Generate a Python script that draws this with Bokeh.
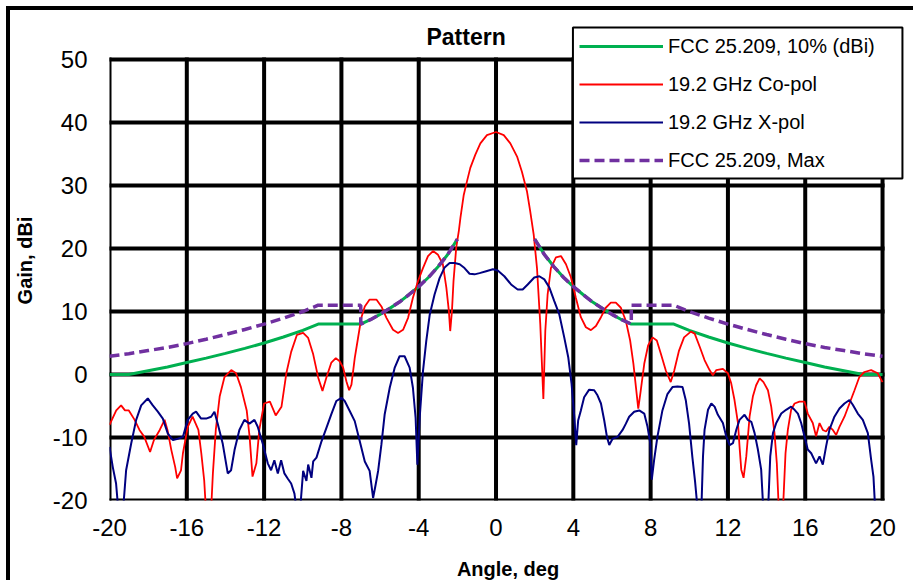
from bokeh.plotting import figure
from bokeh.models import FixedTicker, Legend, LegendItem, Label, BoxAnnotation
from bokeh.embed import file_html
from bokeh.resources import INLINE

NAN = float("nan")

x_ticks = [-20, -16, -12, -8, -4, 0, 4, 8, 12, 16, 20]
x_tick_labels = ["-20", "-16", "-12", "-8", "-4", "0", "4", "8", "12", "16", "20"]
y_ticks = [-20, -10, 0, 10, 20, 30, 40, 50]
y_tick_labels = ["-20", "-10", "0", "10", "20", "30", "40", "50"]

# FCC 25.209, 10% (dBi)
fcc10_angle = [-20, -19, -18, -17, -16, -15, -14, -13, -12, -11, -10, -9.2, -7,
               -6.5, -6, -5.5, -5, -4.5, -4, -3.5, -3, -2.5, -2,
               NAN,
               2, 2.5, 3, 3.5, 4, 4.5, 5, 5.5, 6, 6.5, 7,
               9.2, 10, 11, 12, 13, 14, 15, 16, 17, 18, 19, 20]
fcc10_gain = [0.0, 0.0, 0.6, 1.2, 1.9, 2.6, 3.35, 4.15, 5.0, 5.95, 7.0, 8.0, 8.0,
              8.7, 9.55, 10.5, 11.5, 12.7, 13.95, 15.4, 17.1, 19.05, 21.5,
              NAN,
              21.5, 19.05, 17.1, 15.4, 13.95, 12.7, 11.5, 10.5, 9.55, 8.7, 8.0,
              8.0, 7.0, 5.95, 5.0, 4.15, 3.35, 2.6, 1.9, 1.2, 0.6, 0.0, 0.0]

# FCC 25.209, Max
fccmax_angle = [-20, -19, -18, -17, -16, -15, -14, -13, -12, -11, -10, -9.2, -7, -7,
                -6.5, -6, -5.5, -5, -4.5, -4, -3.5, -3, -2.5, -2,
                NAN,
                2, 2.5, 3, 3.5, 4, 4.5, 5, 5.5, 6, 6.5, 7, 7,
                9.2, 10, 11, 12, 13, 14, 15, 16, 17, 18, 19, 20]
fccmax_gain = [2.9, 3.3, 3.8, 4.3, 4.9, 5.6, 6.35, 7.15, 8.0, 8.95, 10.0, 11.0, 11.0, 8.0,
               8.7, 9.55, 10.5, 11.5, 12.7, 13.95, 15.4, 17.1, 19.05, 21.5,
               NAN,
               21.5, 19.05, 17.1, 15.4, 13.95, 12.7, 11.5, 10.5, 9.55, 8.7, 8.0, 11.0,
               11.0, 10.0, 8.95, 8.0, 7.15, 6.35, 5.6, 4.9, 4.3, 3.8, 3.3, 2.9]

# 19.2 GHz Co-pol
copol_angle = [-20.0, -19.65, -19.4, -19.2, -19.0, -18.7, -18.45, -18.2, -17.9, -17.7,
               -17.4, -17.15, -17.0, -16.8, -16.6, -16.5, -16.3, -16.2, -15.95, -15.7,
               -15.4, -15.25, -15.1, -15.0, -14.75, -14.65, -14.5, -14.3, -14.05, -13.7,
               -13.45, -13.2, -12.9, -12.75, -12.6, -12.4, -12.25, -12.0, -11.7, -11.4,
               -11.1, -10.85, -10.6, -10.3, -9.98, -9.72, -9.46, -9.2, -8.98, -8.78,
               -8.52, -8.29, -8.09, -7.91, -7.74, -7.6, -7.48, -7.31, -7.14, -6.97,
               -6.79, -6.54, -6.19, -5.93, -5.67, -5.33, -5.07, -4.81, -4.55, -4.3,
               -4.04, -3.78, -3.52, -3.26, -3.0, -2.75, -2.57, -2.44, -2.37, -2.28,
               -2.2, -2.06, -1.92, -1.84, -1.67, -1.5, -1.33, -1.07, -0.81, -0.47,
               0.0, 0.4, 0.74, 1.09, 1.34, 1.6, 1.77, 1.95, 2.12, 2.29,
               2.45, 2.55, 2.67, 2.84, 3.1, 3.36, 3.62, 3.88, 4.13, 4.39,
               4.65, 4.91, 5.17, 5.43, 5.68, 5.94, 6.2, 6.46, 6.72, 6.94,
               7.11, 7.24, 7.36, 7.49, 7.67, 7.87, 8.1, 8.32, 8.53, 8.79,
               9.04, 9.22, 9.47, 9.73, 10.08, 10.28, 10.54, 10.79, 11.05, 11.22,
               11.4, 11.74, 12.0, 12.17, 12.34, 12.52, 12.6, 12.69, 12.81, 12.95,
               13.12, 13.29, 13.46, 13.64, 13.84, 14.07, 14.24, 14.41, 14.53, 14.64,
               14.84, 14.98, 15.1, 15.27, 15.45, 15.7, 15.96, 16.13, 16.39, 16.56,
               16.74, 16.91, 17.08, 17.25, 17.43, 17.6, 17.77, 18.03, 18.29, 18.55,
               18.8, 19.06, 19.41, 19.75, 20.0]
copol_gain = [-8.0, -5.7, -4.9, -5.7, -5.7, -7.2, -8.8, -9.9, -12.3, -10.4,
              -8.8, -7.2, -8.8, -12.0, -14.7, -16.5, -15.2, -12.5, -8.3, -6.7,
              -8.8, -12.5, -16.8, -22.0, -22.0, -15.7, -8.8, -3.5, -0.4, 0.7,
              0.2, -2.0, -5.7, -9.9, -16.2, -14.1, -8.8, -4.6, -4.3, -6.5,
              -5.1, 0.2, 3.6, 6.3, 6.6, 5.8, 3.2, -0.5, -2.6, -0.5,
              1.9, 2.6, 2.1, 1.1, -1.1, -2.5, -1.6, 2.6, 5.8, 9.0,
              10.8, 11.9, 11.9, 10.8, 9.0, 7.1, 6.6, 7.1, 9.0, 12.2,
              14.8, 16.9, 18.8, 19.6, 19.0, 17.5, 13.8, 10.1, 6.9, 10.1,
              14.8, 20.1, 22.9, 24.9, 28.5, 30.7, 32.8, 34.9, 36.7, 38.0,
              38.5, 38.0, 36.7, 34.6, 32.2, 29.1, 25.9, 22.2, 16.9, 8.0,
              -3.9, 6.9, 12.7, 16.9, 18.6, 18.8, 17.5, 15.4, 12.2, 9.1,
              7.5, 7.05, 7.7, 9.1, 10.6, 11.4, 11.4, 10.6, 8.5, 5.4,
              1.7, -2.0, -5.4, -2.5, 1.7, 4.6, 5.9, 5.4, 3.3, 0.6,
              -1.2, 0.6, 3.8, 5.9, 6.8, 6.5, 4.4, 2.3, 0.7, -0.1,
              0.7, 0.9, 0.2, -1.4, -4.05, -7.7, -11.4, -15.1, -16.4, -13.0,
              -6.7, -3.5, -1.7, -0.6, -1.2, -2.5, -5.1, -9.3, -14.1, -22.0,
              -22.0, -12.5, -8.8, -5.6, -4.6, -4.3, -4.3, -6.2, -7.7, -9.8,
              -7.7, -8.8, -9.05, -8.3, -8.8, -9.6, -8.3, -6.7, -4.6, -2.5,
              -0.4, 0.4, 0.7, 0.2, -1.2]

# 19.2 GHz X-pol
xpol_angle = [-20.0, -19.83, -19.66, -19.53, -19.31, -19.14, -18.88, -18.62, -18.36, -18.02,
              -17.76, -17.5, -17.24, -16.98, -16.72, -16.47, -16.2, -15.95, -15.69, -15.52,
              -15.26, -15.0, -14.74, -14.57, -14.4, -14.14, -13.88, -13.71, -13.53, -13.28,
              -13.02, -12.76, -12.5, -12.33, -12.07, -11.81, -11.64, -11.47, -11.29, -11.12,
              -10.95, -10.78, -10.6, -10.43, -10.3, -10.15, -9.98, -9.81, -9.72, -9.55,
              -9.46, -9.29, -9.03, -8.78, -8.52, -8.26, -8.0, -7.83, -7.57, -7.31,
              -7.05, -6.79, -6.54, -6.36, -6.23, -6.1, -5.93, -5.76, -5.5, -5.24,
              -4.99, -4.73, -4.47, -4.3, -4.16, -4.07, -3.95, -3.78, -3.61, -3.43,
              -3.18, -2.92, -2.66, -2.4, -2.14, -1.88, -1.63, -1.37, -1.11, -0.85,
              -0.51, -0.16, 0.09, 0.43, 0.78, 1.12, 1.38, 1.64, 1.98, 2.24,
              2.5, 2.76, 3.01, 3.27, 3.53, 3.74, 3.91, 4.05, 4.15, 4.25,
              4.39, 4.56, 4.82, 5.08, 5.25, 5.43, 5.6, 5.74, 5.86, 6.03,
              6.29, 6.55, 6.72, 6.89, 7.15, 7.41, 7.67, 7.84, 7.98, 8.06,
              8.18, 8.35, 8.61, 8.87, 9.13, 9.39, 9.65, 9.82, 9.99, 10.16,
              10.3, 10.45, 10.62, 10.71, 10.79, 10.97, 11.14, 11.31, 11.48, 11.74,
              11.91, 12.09, 12.26, 12.43, 12.6, 12.86, 13.03, 13.21, 13.38, 13.55,
              13.72, 13.84, 14.07, 14.19, 14.33, 14.5, 14.76, 15.01, 15.27, 15.45,
              15.62, 15.79, 15.96, 16.13, 16.31, 16.56, 16.74, 16.91, 17.08, 17.25,
              17.51, 17.77, 18.03, 18.29, 18.46, 18.72, 18.98, 19.24, 19.41, 19.53,
              19.63]
xpol_gain = [-11.5, -14.7, -17.3, -22.0, -22.0, -15.2, -11.0, -7.2, -4.9, -3.8,
             -4.9, -5.9, -7.0, -9.4, -10.4, -10.2, -9.9, -7.2, -6.2, -5.9,
             -7.0, -7.0, -6.7, -5.9, -7.8, -11.0, -15.7, -15.2, -12.0, -8.8,
             -7.2, -7.8, -7.2, -8.3, -11.0, -14.1, -15.2, -13.6, -15.7, -13.6,
             -15.7, -16.5, -17.3, -18.9, -22.0, -22.0, -15.3, -16.9, -14.3, -16.4,
             -13.8, -13.2, -10.6, -8.5, -6.3, -4.2, -3.7, -4.2, -5.8, -7.4,
             -10.6, -13.8, -15.3, -19.6, -17.5, -15.3, -11.1, -6.3, -2.1, 1.1,
             2.9, 2.9, 1.1, -2.1, -6.9, -14.3, -6.9, 0.5, 5.3, 9.5,
             12.7, 15.3, 17.0, 17.7, 17.7, 17.5, 16.9, 16.0, 15.9, 16.1,
             16.4, 16.7, 16.5, 15.6, 14.3, 13.5, 13.5, 14.3, 15.4, 15.6,
             15.1, 13.8, 11.7, 9.6, 5.9, 2.7, -1.5, -6.7, -11.2, -7.3,
             -5.7, -3.6, -2.4, -2.5, -3.3, -4.6, -7.3, -9.9, -11.2, -10.2,
             -9.9, -8.8, -7.8, -6.7, -5.9, -5.7, -6.2, -8.3, -10.9, -16.7,
             -13.6, -9.9, -5.7, -3.1, -2.0, -1.9, -2.0, -4.1, -7.8, -13.1,
             -17.0, -22.0, -22.0, -13.0, -8.8, -5.6, -4.6, -5.1, -6.4, -7.7,
             -9.8, -11.2, -10.9, -8.8, -7.2, -6.4, -7.2, -7.5, -9.3, -11.9,
             -15.1, -22.0, -22.0, -13.0, -9.3, -7.7, -6.2, -5.6, -5.1, -5.6,
             -6.2, -7.7, -9.8, -11.9, -12.5, -14.1, -13.0, -14.3, -11.4, -8.8,
             -6.7, -5.4, -4.6, -4.05, -4.8, -6.2, -7.2, -9.3, -13.5, -16.2,
             -22.0]

FONT = "Liberation Sans"

X_MIN, X_MAX = x_ticks[0], x_ticks[-1]
Y_MIN, Y_MAX = y_ticks[0], y_ticks[-1]

p = figure(width=907, height=574, x_range=(-20, 21.24), y_range=(-20, 56.2),
           output_backend="svg", toolbar_location=None,
           min_border_left=98, min_border_top=10, min_border_right=11, min_border_bottom=84,
           background_fill_color="white", border_fill_color="white")

p.styles = {"margin-left": "6px", "margin-top": "6px",
            "border-left": "4px solid black", "border-top": "4px solid black"}

p.outline_line_color = None
p.grid.visible = False

for ax in (p.xaxis[0], p.yaxis[0]):
    ax.axis_line_color = None
    ax.major_tick_line_color = None
    ax.minor_tick_line_color = None
    ax.major_tick_out = 0
    ax.major_tick_in = 0
    ax.minor_tick_out = 0
    ax.minor_tick_in = 0
    ax.major_label_text_font = FONT
    ax.major_label_text_font_size = "24px"
    ax.major_label_text_color = "black"
    ax.axis_label_text_font = FONT
    ax.axis_label_text_font_size = "20px"
    ax.axis_label_text_font_style = "bold"
    ax.axis_label_text_color = "black"

p.xaxis.ticker = FixedTicker(ticks=x_ticks)
p.yaxis.ticker = FixedTicker(ticks=y_ticks)
p.xaxis.major_label_overrides = dict(zip(x_ticks, x_tick_labels))
p.yaxis.major_label_overrides = dict(zip(y_ticks, y_tick_labels))
p.xaxis.axis_label = "Angle, deg"
p.yaxis.axis_label = "Gain, dBi"
p.xaxis.major_label_standoff = 18
p.yaxis.major_label_standoff = 22
p.xaxis.axis_label_standoff = 19
p.yaxis.axis_label_standoff = 14

# grid lines (and box border) drawn from the tick arrays
p.segment(x0=x_ticks, y0=[Y_MIN] * len(x_ticks), x1=x_ticks, y1=[Y_MAX] * len(x_ticks),
          line_color="black", line_width=4, line_cap="square")
p.segment(x0=[X_MIN] * len(y_ticks), y0=y_ticks, x1=[X_MAX] * len(y_ticks), y1=y_ticks,
          line_color="black", line_width=4, line_cap="square")

r_green = p.line(fcc10_angle, fcc10_gain, line_color="#00B050", line_width=3)
r_red = p.line(copol_angle, copol_gain, line_color="#FF0000", line_width=1.8)
r_blue = p.line(xpol_angle, xpol_gain, line_color="#000080", line_width=2)
r_purple = p.line(fccmax_angle, fccmax_gain, line_color="#7030A0", line_width=3.5,
                  line_dash="10 5")

p.add_layout(Label(x=-1.55, y=53.65, text="Pattern", text_font=FONT, text_font_size="23px",
                   text_font_style="bold", text_color="black", text_align="center",
                   text_baseline="middle"))

# legend frame
p.add_layout(BoxAnnotation(left=3.98, right=21.03, bottom=31.1, top=55.08,
                           fill_color="white", fill_alpha=1.0,
                           line_color="black", line_width=2, line_alpha=1.0))

legend = Legend(items=[
    LegendItem(label="FCC 25.209, 10% (dBi)", renderers=[r_green]),
    LegendItem(label="19.2 GHz Co-pol", renderers=[r_red]),
    LegendItem(label="19.2 GHz X-pol", renderers=[r_blue]),
    LegendItem(label="FCC 25.209, Max", renderers=[r_purple]),
])
legend.location = (470, 328)
legend.border_line_color = None
legend.background_fill_color = "white"
legend.background_fill_alpha = 0.0
legend.label_text_font = FONT
legend.label_text_font_size = "20px"
legend.label_text_color = "black"
legend.glyph_width = 84
legend.glyph_height = 24
legend.spacing = 14
legend.padding = 7
legend.margin = 0
legend.label_standoff = 5
p.add_layout(legend, "center")

open("out.html", "w").write(file_html(p, INLINE))
